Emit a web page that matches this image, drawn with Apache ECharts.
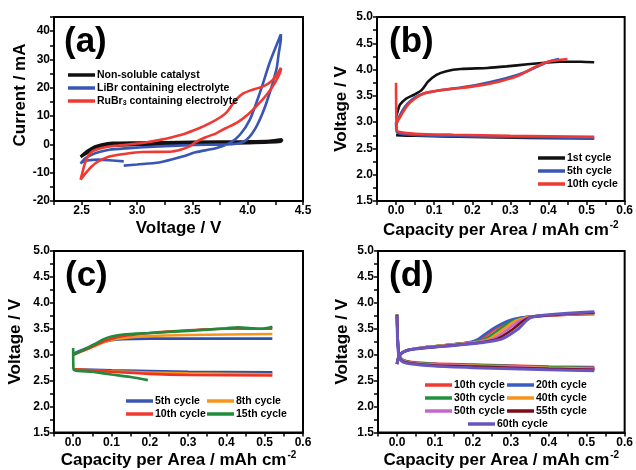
<!DOCTYPE html>
<html>
<head>
<meta charset="utf-8">
<script src="https://cdn.jsdelivr.net/npm/echarts@6/dist/echarts.min.js"></script>
<style>
  html, body { margin: 0; padding: 0; background: #fff; }
  #chart { width: 636px; height: 470px; }
</style>
</head>
<body>
<div id="chart"></div>
<script>
// (a) cyclic voltammetry, [voltage V, current mA]
const cvNames = ['Non-soluble catalyst', 'LiBr containing electrolyte', 'RuBr3 containing electrolyte']
const cvBlack = [[2.49,-4.4],[2.53,-3],[2.57,-1.9],[2.62,-0.8],[2.68,-0.1],[2.78,0.45],[3.0,0.6],[3.5,0.8],[4.0,1.0],[4.2,1.2],[4.31,1.7],
  [4.3,1.0],[4.0,0.5],[3.5,0.2],[3.0,-0.1],[2.8,-0.3],[2.7,-0.7],[2.62,-1.6],[2.56,-2.8],[2.49,-4.4]]
const cvBlue = [[2.88,-7.5],[3.0,-7.1],[3.2,-6.4],[3.41,-4.3],[3.53,-2.8],[3.72,-1.3],[3.84,0.5],[3.93,3.4],[4.02,8.75],[4.11,18.2],[4.2,29],[4.26,35],[4.3,38.9],
  [4.3,37.5],[4.28,32],[4.26,26.5],[4.17,14.7],[4.08,6.4],[3.99,1.65],[3.9,0.2],[3.75,-0.1],[3.53,-0.2],[3.2,-0.7],[2.9,-1.4],[2.75,-1.9],[2.65,-2.8],[2.59,-3.7],[2.53,-5],[2.49,-6.8],
  [2.51,-6.2],[2.55,-5.7],[2.65,-5.4],[2.75,-5.6],[2.88,-6.0]]
const cvRed = [[2.49,-12.5],[2.51,-9.5],[2.53,-6.6],[2.56,-4],[2.6,-2.4],[2.68,-1.3],[2.8,-0.5],[3.05,0.5],[3.2,1.5],[3.41,3.5],[3.55,5.5],[3.66,7.5],[3.75,9.5],[3.81,11.3],[3.86,14],[3.9,16],[3.96,18],[4.02,19],[4.14,20.5],[4.22,22.5],[4.27,25],[4.3,27],
  [4.3,26.5],[4.25,22],[4.18,18],[4.08,13.5],[4.0,10.5],[3.9,7.6],[3.8,5.7],[3.72,4.0],[3.62,2.5],[3.53,0.8],[3.47,-0.8],[3.4,-1.8],[3.3,-2.6],[3.05,-2.7],[2.9,-3.3],[2.75,-4.3],[2.65,-6],[2.59,-7.8],[2.54,-10],[2.49,-12.5]]

// (b) [capacity mAh cm-2, voltage V]
const bNames = ['1st cycle', '5th cycle', '10th cycle']
const b1Charge = [[0,3.1],[0.004,3.2],[0.01,3.33],[0.027,3.45],[0.049,3.53],[0.067,3.61],[0.084,3.77],[0.106,3.9],[0.132,3.97],[0.17,4.01],[0.24,4.03],[0.29,4.06],[0.345,4.1],[0.39,4.13],[0.43,4.15],[0.485,4.15],[0.52,4.14]]
const b1Dis = [[0,2.75],[0.05,2.74],[0.2,2.72],[0.35,2.7],[0.52,2.69]]
const b5Charge = [[0,2.95],[0.005,3.05],[0.015,3.2],[0.03,3.35],[0.05,3.47],[0.075,3.55],[0.12,3.61],[0.17,3.66],[0.22,3.72],[0.27,3.8],[0.32,3.9],[0.36,4.02],[0.4,4.15],[0.428,4.2]]
const b5Dis = [[0,3.0],[0.003,2.8],[0.02,2.77],[0.1,2.74],[0.3,2.72],[0.52,2.7]]
const b10Charge = [[0,2.95],[0.005,3.03],[0.015,3.15],[0.03,3.32],[0.05,3.45],[0.075,3.55],[0.12,3.61],[0.17,3.65],[0.22,3.7],[0.27,3.77],[0.32,3.88],[0.365,4.05],[0.4,4.15],[0.45,4.2]]
const b10Dis = [[0,3.75],[0.002,2.85],[0.01,2.81],[0.05,2.78],[0.15,2.76],[0.3,2.74],[0.52,2.72]]

// (c)
const cNames = ['5th cycle', '8th cycle', '10th cycle', '15th cycle']
const c5Charge = [[0,3.02],[0.02,3.08],[0.04,3.14],[0.06,3.2],[0.08,3.25],[0.1,3.28],[0.13,3.3],[0.2,3.31],[0.52,3.31]]
const c5Dis = [[0,2.72],[0.1,2.7],[0.3,2.67],[0.52,2.66]]
const c8Charge = [[0,3.0],[0.02,3.06],[0.04,3.12],[0.06,3.18],[0.08,3.24],[0.1,3.29],[0.13,3.32],[0.2,3.36],[0.3,3.38],[0.52,3.4]]
const c8Dis = [[0,2.72],[0.1,2.68],[0.3,2.64],[0.52,2.62]]
const c10Charge = [[0,3.0],[0.02,3.06],[0.04,3.12],[0.06,3.19],[0.08,3.26],[0.1,3.31],[0.13,3.36],[0.2,3.42],[0.3,3.47],[0.4,3.5],[0.52,3.5]]
const c10Dis = [[0,2.72],[0.1,2.67],[0.2,2.63],[0.3,2.61],[0.52,2.6]]
const c15Charge = [[0,3.0],[0.02,3.07],[0.04,3.14],[0.06,3.22],[0.08,3.3],[0.1,3.35],[0.13,3.39],[0.2,3.42],[0.3,3.46],[0.4,3.51],[0.43,3.53],[0.47,3.51],[0.49,3.5],[0.52,3.54]]
const c15Dis = [[0,3.13],[0.001,2.72],[0.05,2.67],[0.1,2.62],[0.15,2.57],[0.195,2.51]]

// (d)
const dNames = ['10th cycle', '20th cycle', '30th cycle', '40th cycle', '50th cycle', '55th cycle', '60th cycle']
const d10Charge = [[0,2.82],[0.004,2.95],[0.012,3.03],[0.03,3.09],[0.06,3.13],[0.1,3.16],[0.15,3.2],[0.195,3.24],[0.222,3.3],[0.258,3.49],[0.298,3.65],[0.335,3.72],[0.36,3.74],[0.4,3.75],[0.45,3.77],[0.52,3.78]]
const d20Charge = [[0,2.82],[0.004,2.95],[0.012,3.03],[0.03,3.09],[0.06,3.13],[0.1,3.16],[0.15,3.2],[0.19,3.24],[0.214,3.3],[0.25,3.49],[0.292,3.65],[0.33,3.72],[0.36,3.74],[0.4,3.76],[0.45,3.78],[0.52,3.8]]
const d30Charge = [[0,2.82],[0.004,2.95],[0.012,3.03],[0.03,3.09],[0.06,3.13],[0.1,3.16],[0.15,3.2],[0.2,3.24],[0.232,3.3],[0.27,3.49],[0.305,3.65],[0.34,3.72],[0.36,3.74],[0.4,3.76],[0.45,3.78],[0.52,3.8]]
const d40Charge = [[0,2.82],[0.004,2.95],[0.012,3.03],[0.03,3.09],[0.06,3.13],[0.1,3.16],[0.15,3.2],[0.205,3.24],[0.242,3.3],[0.28,3.49],[0.312,3.65],[0.343,3.72],[0.36,3.74],[0.4,3.76],[0.45,3.78],[0.52,3.8]]
const d50Charge = [[0,2.82],[0.004,2.95],[0.012,3.03],[0.03,3.09],[0.06,3.13],[0.1,3.15],[0.15,3.19],[0.21,3.24],[0.252,3.3],[0.292,3.49],[0.322,3.65],[0.347,3.72],[0.362,3.74],[0.4,3.76],[0.45,3.78],[0.52,3.81]]
const d55Charge = [[0,2.82],[0.004,2.95],[0.012,3.03],[0.03,3.09],[0.06,3.12],[0.1,3.15],[0.15,3.18],[0.215,3.23],[0.263,3.3],[0.305,3.49],[0.332,3.65],[0.35,3.72],[0.365,3.74],[0.4,3.76],[0.45,3.79],[0.52,3.81]]
const d60Charge = [[0,2.82],[0.004,2.95],[0.012,3.03],[0.03,3.09],[0.06,3.12],[0.1,3.15],[0.15,3.18],[0.22,3.23],[0.275,3.3],[0.318,3.49],[0.34,3.65],[0.353,3.72],[0.368,3.74],[0.4,3.77],[0.45,3.8],[0.52,3.83]]
const d10Dis = [[0,3.78],[0.002,3.3],[0.006,3.0],[0.015,2.9],[0.04,2.86],[0.1,2.83],[0.2,2.81],[0.3,2.79],[0.4,2.77],[0.52,2.76]]
const d20Dis = [[0,3.78],[0.002,3.3],[0.006,3.0],[0.015,2.9],[0.04,2.85],[0.1,2.82],[0.2,2.8],[0.3,2.78],[0.4,2.76],[0.52,2.75]]
const d30Dis = [[0,3.78],[0.002,3.3],[0.006,3.0],[0.015,2.9],[0.04,2.85],[0.1,2.82],[0.2,2.8],[0.3,2.78],[0.4,2.76],[0.52,2.74]]
const d40Dis = [[0,3.77],[0.002,3.3],[0.006,3.0],[0.015,2.89],[0.04,2.84],[0.1,2.81],[0.2,2.79],[0.3,2.77],[0.4,2.75],[0.52,2.73]]
const d50Dis = [[0,3.77],[0.002,3.25],[0.006,2.98],[0.015,2.88],[0.04,2.84],[0.1,2.8],[0.2,2.78],[0.3,2.76],[0.4,2.74],[0.52,2.72]]
const d55Dis = [[0,3.76],[0.002,3.25],[0.006,2.97],[0.015,2.87],[0.04,2.83],[0.1,2.79],[0.2,2.77],[0.3,2.75],[0.4,2.73],[0.52,2.71]]
const d60Dis = [[0,3.75],[0.002,3.2],[0.006,2.95],[0.015,2.86],[0.04,2.82],[0.1,2.78],[0.2,2.75],[0.3,2.73],[0.4,2.71],[0.52,2.69]]

const FONT = 'Liberation Sans'
const colA = ['#111111', '#3a56b5', '#ee3a33']
const colC = ['#2f4fa8', '#f7941d', '#ee3224', '#1f8b3b']
const colD = ['#ff3b3b', '#3a5cc0', '#22913f', '#f7941d', '#c467c9', '#7b0c18', '#6756c0']

const grids = [
  { left: 54, right: 333, top: 17, bottom: 269 },
  { left: 377, right: 8, top: 17, bottom: 269 },
  { left: 54, right: 333, top: 251, bottom: 36 },
  { left: 378, right: 8, top: 251, bottom: 36 }
].map(g => ({ ...g, show: true, borderColor: '#000', borderWidth: 2, containLabel: false }))

const isStep = (v, step) => Math.abs(v / step - Math.round(v / step)) < 1e-6

const axisBase = {
  type: 'value',
  splitLine: { show: false },
  axisLine: { onZero: false, lineStyle: { color: '#000', width: 2 } },
  axisTick: { length: 4, lineStyle: { color: '#000', width: 1.5 } },
  axisLabel: { color: '#000', fontFamily: FONT, fontWeight: 'bold', fontSize: 12, margin: 4 },
  nameLocation: 'middle',
  nameTextStyle: { color: '#000', fontFamily: FONT, fontWeight: 'bold', fontSize: 17 }
}

const capName = {
  ...axisBase,
  name: 'Capacity per Area / mAh cm{sup|-2}',
  nameGap: 18,
  nameTextStyle: {
    ...axisBase.nameTextStyle,
    rich: { sup: { fontFamily: FONT, fontWeight: 'bold', fontSize: 10, verticalAlign: 'top', padding: [0, 0, 10, 1] } }
  },
  min: -0.05, max: 0.6, interval: 0.05,
  axisLabel: { ...axisBase.axisLabel, formatter: v => (v >= 0 && isStep(v, 0.1)) ? v.toFixed(1) : '' }
}
const voltY = {
  ...axisBase,
  name: 'Voltage / V',
  min: 1.5, max: 5.0, interval: 0.25,
  axisLabel: { ...axisBase.axisLabel, formatter: v => isStep(v, 0.5) ? v.toFixed(1) : '' }
}

const xAxes = [
  { ...axisBase, gridIndex: 0, name: 'Voltage / V', nameGap: 19, min: 2.25, max: 4.5, interval: 0.25,
    axisLabel: { ...axisBase.axisLabel, formatter: v => isStep(v, 0.5) ? v.toFixed(1) : '' } },
  { ...capName, gridIndex: 1, nameGap: 19 },
  { ...capName, gridIndex: 2 },
  { ...capName, gridIndex: 3 }
]
const yAxes = [
  { ...axisBase, gridIndex: 0, name: 'Current / mA', nameGap: 24, min: -20, max: 45, interval: 5,
    nameTextStyle: { ...axisBase.nameTextStyle, padding: [0, 0, 0, 28] },
    axisLabel: { ...axisBase.axisLabel, formatter: v => (isStep(v, 10) && v <= 40) ? String(v) : '' } },
  { ...voltY, gridIndex: 1, nameGap: 27 },
  { ...voltY, gridIndex: 2, nameGap: 30 },
  { ...voltY, gridIndex: 3, nameGap: 27 }
]

function line(name, data, color, idx, width) {
  return {
    type: 'line', name, data, xAxisIndex: idx, yAxisIndex: idx,
    showSymbol: false, smooth: 0.25, animation: false, silent: true,
    lineStyle: { color, width: width || 2.6 }, itemStyle: { color }
  }
}

const series = [
  line(cvNames[0], cvBlack, colA[0], 0, 3),
  line(cvNames[1], cvBlue, colA[1], 0),
  line(cvNames[2], cvRed, colA[2], 0),

  line(bNames[0], b1Charge, colA[0], 1),
  line(bNames[0], b1Dis, colA[0], 1),
  line(bNames[1], b5Charge, colA[1], 1),
  line(bNames[1], b5Dis, colA[1], 1),
  line(bNames[2], b10Charge, colA[2], 1),
  line(bNames[2], b10Dis, colA[2], 1),

  line(cNames[0], c5Charge, colC[0], 2),
  line(cNames[0], c5Dis, colC[0], 2),
  line(cNames[1], c8Charge, colC[1], 2),
  line(cNames[1], c8Dis, colC[1], 2),
  line(cNames[2], c10Charge, colC[2], 2),
  line(cNames[2], c10Dis, colC[2], 2),
  line(cNames[3], c15Charge, colC[3], 2),
  line(cNames[3], c15Dis, colC[3], 2),

  line(dNames[0], d10Charge, colD[0], 3),
  line(dNames[0], d10Dis, colD[0], 3),
  line(dNames[1], d20Charge, colD[1], 3),
  line(dNames[1], d20Dis, colD[1], 3),
  line(dNames[2], d30Charge, colD[2], 3),
  line(dNames[2], d30Dis, colD[2], 3),
  line(dNames[3], d40Charge, colD[3], 3),
  line(dNames[3], d40Dis, colD[3], 3),
  line(dNames[4], d50Charge, colD[4], 3),
  line(dNames[4], d50Dis, colD[4], 3),
  line(dNames[5], d55Charge, colD[5], 3),
  line(dNames[5], d55Dis, colD[5], 3),
  line(dNames[6], d60Charge, colD[6], 3, 3),
  line(dNames[6], d60Dis, colD[6], 3, 3)
]

function legend(data, left, top) {
  return {
    data, left, top, orient: 'vertical', icon: 'rect', itemWidth: 27, itemHeight: 3.5, itemGap: 1,
    selectedMode: false, padding: 0,
    textStyle: {
      color: '#000', fontFamily: FONT, fontWeight: 'bold', fontSize: 10.5, lineHeight: 12, padding: [0, 0, 0, -3],
      rich: { sub: { fontFamily: FONT, fontWeight: 'bold', fontSize: 7, verticalAlign: 'bottom', padding: [6, 0, 0, 0] } }
    },
    formatter: n => n === 'RuBr3 containing electrolyte' ? 'RuBr{sub|3} containing electrolyte' : n
  }
}

const legends = [
  legend(cvNames, 68, 69),
  legend(bNames, 538, 152),
  legend([cNames[0], cNames[2]], 126, 395),
  legend([cNames[1], cNames[3]], 207, 395),
  legend([dNames[0], dNames[2], dNames[4]], 425, 379),
  legend([dNames[1], dNames[3], dNames[5]], 507, 379),
  legend([dNames[6]], 468, 418)
]

const panelLabel = (text, left, top) => ({
  type: 'text', left, top, silent: true,
  style: { text, fill: '#000', font: 'bold 35px "Liberation Sans"' }
})

const chart = echarts.init(document.getElementById('chart'), null, { renderer: 'canvas' })
chart.setOption({
  backgroundColor: '#fff',
  animation: false,
  grid: grids,
  xAxis: xAxes,
  yAxis: yAxes,
  legend: legends,
  series,
  graphic: [
    panelLabel('(a)', 64, 25),
    panelLabel('(b)', 389, 25),
    panelLabel('(c)', 65, 259),
    panelLabel('(d)', 389, 259)
  ]
})
window.addEventListener('resize', () => chart.resize())
</script>
</body>
</html>
